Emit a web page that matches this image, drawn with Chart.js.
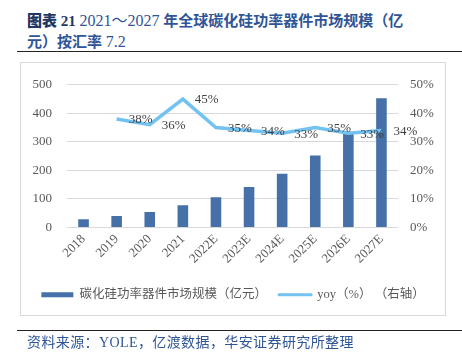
<!DOCTYPE html>
<html>
<head>
<meta charset="utf-8">
<script src="https://cdn.jsdelivr.net/npm/chart.js@4"></script>
<style>
  html, body { margin: 0; padding: 0; background: #fff; }
  body { width: 462px; height: 352px; position: relative; overflow: hidden; }
  .title { position: absolute; left: 27px; font-family: "Liberation Serif", "Noto Sans CJK SC", serif; font-size: 15px; font-weight: bold; color: #2F5597; white-space: nowrap; }
  .title b { color: #1F3864; }
  .title .n { font-weight: normal; font-size: 16px; }
  #t1 { top: 7px; }
  #t2 { top: 30px; }
  .rule { position: absolute; left: 17px; width: 445px; height: 1px; background: #222; }
  #box { position: absolute; left: 20px; top: 62px; width: 424px; height: 252px; border: 1px solid #D9D9D9; pointer-events: none; }
  #wrap { position: absolute; left: 20px; top: 62px; width: 426px; height: 254px; }
  #src { position: absolute; left: 27px; top: 331px; font-family: "Liberation Serif", "Noto Sans CJK SC", serif; font-size: 14px; letter-spacing: 0.4px; color: #2F5597; white-space: nowrap; }
</style>
</head>
<body>
<div class="title" id="t1"><b>图表 21</b> <span class="n">2021～2027</span> 年全球碳化硅功率器件市场规模（亿</div>
<div class="title" id="t2">元）按汇率 <span class="n">7.2</span></div>
<div class="rule" style="top:51px"></div>
<div id="wrap"><canvas id="c" width="426" height="254"></canvas></div>
<div id="box"></div>
<div class="rule" style="top:330px"></div>
<div id="src">资料来源：YOLE，亿渡数据，华安证券研究所整理</div>
<script>
const categories = ["2018", "2019", "2020", "2021", "2022E", "2023E", "2024E", "2025E", "2026E", "2027E"];
const marketSize = [29, 40, 54, 78, 106, 142, 188, 252, 328, 453];
const yoy = [null, 38, 36, 45, 35, 34, 33, 35, 33, 34];
const leftTicks = [0, 100, 200, 300, 400, 500];
const rightTicks = [0, 10, 20, 30, 40, 50];
const barLabel = "碳化硅功率器件市场规模（亿元）";
const lineLabel = "yoy（%） （右轴）";

const BAR_COLOR = "#4570A8";
const LINE_COLOR = "#72C2F2";
const TEXT_COLOR = "#595959";
const FONT = "'Liberation Serif', 'Noto Sans CJK SC', serif";

const lineLabels = {
  id: "lineLabels",
  afterDatasetsDraw(chart) {
    const meta = chart.getDatasetMeta(1);
    const ctx = chart.ctx;
    ctx.save();
    ctx.font = "13px " + FONT;
    ctx.fillStyle = "#404040";
    ctx.textAlign = "left";
    ctx.textBaseline = "middle";
    meta.data.forEach((pt, i) => {
      const v = yoy[i];
      if (v === null || v === undefined) return;
      ctx.fillText(v + "%", pt.x + 12, pt.y + 1);
    });
    ctx.restore();
  }
};

new Chart(document.getElementById("c"), {
  data: {
    labels: categories,
    datasets: [
      {
        type: "bar",
        label: barLabel,
        data: marketSize,
        backgroundColor: BAR_COLOR,
        yAxisID: "y",
        categoryPercentage: 1,
        barPercentage: 0.32,
        order: 2
      },
      {
        type: "line",
        label: lineLabel,
        data: yoy,
        borderColor: LINE_COLOR,
        backgroundColor: LINE_COLOR,
        borderWidth: 3.5,
        pointRadius: 0,
        tension: 0,
        yAxisID: "y1",
        order: 1
      }
    ]
  },
  options: {
    responsive: false,
    animation: false,
    devicePixelRatio: 1,
    layout: { padding: { top: 18, left: 0, right: 0, bottom: 5 } },
    plugins: {
      tooltip: { enabled: false },
      legend: {
        position: "bottom",
        labels: {
          usePointStyle: true,
          pointStyleWidth: 32,
          boxHeight: 5,
          padding: 12,
          color: TEXT_COLOR,
          font: { family: FONT, size: 12.5 },
          generateLabels() {
            return [
              { text: barLabel, fillStyle: BAR_COLOR, strokeStyle: BAR_COLOR, lineWidth: 0, pointStyle: "rect", fontColor: TEXT_COLOR, datasetIndex: 0 },
              { text: lineLabel, fillStyle: LINE_COLOR, strokeStyle: LINE_COLOR, lineWidth: 3, lineCap: "round", pointStyle: "line", fontColor: TEXT_COLOR, datasetIndex: 1 }
            ];
          }
        }
      }
    },
    scales: {
      x: {
        grid: { display: false, drawTicks: false },
        border: { display: false },
        ticks: {
          color: TEXT_COLOR,
          font: { family: FONT, size: 13 },
          minRotation: 45,
          maxRotation: 45,
          padding: 4,
          autoSkip: false
        },
        afterFit(s) { s.height = 49; }
      },
      y: {
        position: "left",
        min: 0,
        max: 500,
        afterBuildTicks(s) { s.ticks = leftTicks.map(v => ({ value: v })); },
        grid: { color: "#D9D9D9", drawTicks: false },
        border: { display: false },
        ticks: { color: TEXT_COLOR, font: { family: FONT, size: 13 }, padding: 15 },
        afterFit(s) { s.width = 47; }
      },
      y1: {
        position: "right",
        min: 0,
        max: 50,
        afterBuildTicks(s) { s.ticks = rightTicks.map(v => ({ value: v })); },
        grid: { display: false, drawTicks: false },
        border: { display: false },
        ticks: { color: TEXT_COLOR, font: { family: FONT, size: 13 }, padding: 12, callback: v => v + "%" },
        afterFit(s) { s.width = 48; }
      }
    }
  },
  plugins: [lineLabels]
});
</script>
</body>
</html>
